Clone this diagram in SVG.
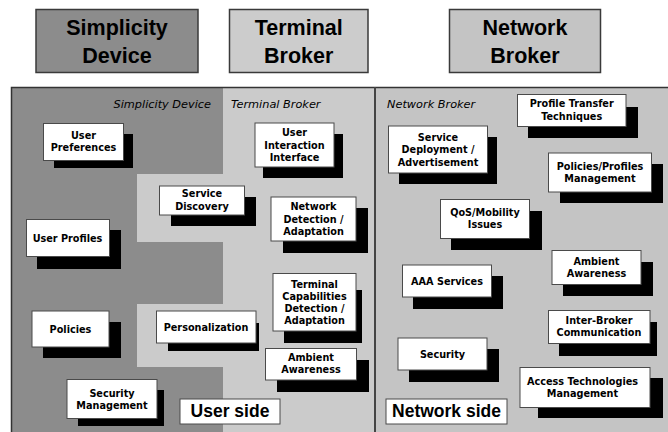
<svg xmlns="http://www.w3.org/2000/svg" width="668" height="432" viewBox="0 0 668 432">
<style>
.hdr{stroke:#3a3a3a;stroke-width:1.5}
.ht{font-family:"Liberation Sans",Arial,sans-serif;font-weight:bold;font-size:21.5px;fill:#000;text-anchor:middle}
.reg{font-family:"DejaVu Sans",Verdana,sans-serif;font-style:italic;font-size:11.3px;fill:#000}
.sh{fill:#000}
.bx{fill:#fff;stroke:#4a4a4a;stroke-width:1}
.t{font-family:"DejaVu Sans",Verdana,sans-serif;font-weight:bold;font-size:9.7px;fill:#000;text-anchor:middle}
.side{font-family:"Liberation Sans",Arial,sans-serif;font-weight:bold;font-size:17.5px;fill:#000;text-anchor:middle}
</style>
<rect width="668" height="432" fill="#fff"/>
<g id="header-simplicity"><rect class="hdr" x="36" y="9.5" width="162" height="63" fill="#8c8c8c"/><text class="ht" x="117" y="34.5">Simplicity</text><text class="ht" x="117" y="63.3">Device</text></g>
<g id="header-terminal"><rect class="hdr" x="229.5" y="9.5" width="138.5" height="63" fill="#cccccc"/><text class="ht" x="298.7" y="34.5">Terminal</text><text class="ht" x="298.7" y="63.3">Broker</text></g>
<g id="header-network"><rect class="hdr" x="449.5" y="9.5" width="151" height="63" fill="#c4c4c4"/><text class="ht" x="525" y="34.5">Network</text><text class="ht" x="525" y="63.3">Broker</text></g>
<g id="regions">
<rect x="11" y="87" width="364" height="346" fill="#cbcbcb"/>
<rect x="375" y="87" width="294" height="346" fill="#c4c4c4"/>
<path d="M11,87 H223 V174 H137 V242 H223 V304 H137 V367 H223 V433 H11 Z" fill="#8c8c8c"/>
<path d="M11.5,433 V87.5 H669" fill="none" stroke="#333" stroke-width="1.5"/>
<line x1="375" y1="87" x2="375" y2="433" stroke="#444" stroke-width="2"/>
<text class="reg" x="211" y="107.5" text-anchor="end">Simplicity Device</text>
<text class="reg" x="231" y="107.5">Terminal Broker</text>
<text class="reg" x="387" y="107.5">Network Broker</text>
</g>
<g id="connectors"></g>
<g id="user-preferences"><rect class="sh" x="54" y="134" width="79" height="34"/><rect class="bx" x="43.5" y="123.5" width="80" height="37"/><text class="t" x="83.5" y="138.5">User</text><text class="t" x="83.5" y="150.8">Preferences</text></g>
<g id="user-profiles"><rect class="sh" x="37" y="230" width="84" height="39"/><rect class="bx" x="26.5" y="219.5" width="83" height="37"/><text class="t" x="67.5" y="241.5">User Profiles</text></g>
<g id="policies"><rect class="sh" x="43" y="322" width="78" height="36"/><rect class="bx" x="32" y="311" width="77" height="36"/><text class="t" x="70.5" y="332.5">Policies</text></g>
<g id="security-management"><rect class="sh" x="78" y="390" width="86" height="36"/><rect class="bx" x="67" y="379.5" width="90" height="39"/><text class="t" x="112" y="396.8">Security</text><text class="t" x="112" y="409.1">Management</text></g>
<g id="service-discovery"><rect class="sh" x="171" y="197" width="85" height="29"/><rect class="bx" x="159.5" y="186" width="85" height="29"/><text class="t" x="202" y="197.4">Service</text><text class="t" x="202" y="209.7">Discovery</text></g>
<g id="personalization"><rect class="sh" x="168" y="323" width="91" height="28"/><rect class="bx" x="156.5" y="311" width="99.5" height="32"/><text class="t" x="206" y="330.5">Personalization</text></g>
<g id="user-interaction-interface"><rect class="sh" x="263" y="134" width="80" height="44"/><rect class="bx" x="255" y="123" width="79" height="44"/><text class="t" x="294.5" y="136.4">User</text><text class="t" x="294.5" y="148.7">Interaction</text><text class="t" x="294.5" y="161">Interface</text></g>
<g id="network-detection"><rect class="sh" x="283" y="208" width="85" height="45"/><rect class="bx" x="271" y="197" width="85" height="44"/><text class="t" x="313.5" y="210.4">Network</text><text class="t" x="313.5" y="222.7">Detection /</text><text class="t" x="313.5" y="235">Adaptation</text></g>
<g id="terminal-capabilities"><rect class="sh" x="284" y="290" width="78" height="53"/><rect class="bx" x="273" y="273.5" width="83" height="57.5"/><text class="t" x="314.5" y="287.5">Terminal</text><text class="t" x="314.5" y="299.8">Capabilities</text><text class="t" x="314.5" y="312.1">Detection /</text><text class="t" x="314.5" y="324.4">Adaptation</text></g>
<g id="ambient-awareness-terminal"><rect class="sh" x="277" y="360" width="92" height="32"/><rect class="bx" x="265.5" y="348.5" width="91" height="31.5"/><text class="t" x="311" y="361">Ambient</text><text class="t" x="311" y="373.3">Awareness</text></g>
<g id="profile-transfer"><rect class="sh" x="528" y="107" width="110" height="31"/><rect class="bx" x="517.5" y="94.5" width="108.5" height="32"/><text class="t" x="571.7" y="107.2">Profile Transfer</text><text class="t" x="571.7" y="119.5">Techniques</text></g>
<g id="service-deployment"><rect class="sh" x="399" y="137" width="98" height="47"/><rect class="bx" x="388.5" y="126" width="99" height="47"/><text class="t" x="438" y="141">Service</text><text class="t" x="438" y="153.3">Deployment  /</text><text class="t" x="438" y="165.6">Advertisement</text></g>
<g id="policies-profiles"><rect class="sh" x="560" y="164" width="103" height="39"/><rect class="bx" x="548.5" y="153" width="103" height="39"/><text class="t" x="600" y="169.5">Policies/Profiles</text><text class="t" x="600" y="181.8">Management</text></g>
<g id="qos-mobility"><rect class="sh" x="451" y="211" width="91" height="39"/><rect class="bx" x="440.5" y="199.5" width="89" height="39"/><text class="t" x="485" y="216">QoS/Mobility</text><text class="t" x="485" y="228.3">Issues</text></g>
<g id="ambient-awareness-network"><rect class="sh" x="563" y="262" width="90" height="34"/><rect class="bx" x="552" y="250.5" width="89" height="34"/><text class="t" x="596.5" y="264.5">Ambient</text><text class="t" x="596.5" y="276.8">Awareness</text></g>
<g id="aaa-services"><rect class="sh" x="413" y="276" width="90" height="33"/><rect class="bx" x="402.5" y="265" width="89" height="32"/><text class="t" x="447" y="284.5">AAA Services</text></g>
<g id="inter-broker"><rect class="sh" x="559" y="322" width="98" height="34"/><rect class="bx" x="548.5" y="310.5" width="101.5" height="33"/><text class="t" x="599" y="324">Inter-Broker</text><text class="t" x="599" y="336.3">Communication</text></g>
<g id="security"><rect class="sh" x="409" y="349" width="90" height="33"/><rect class="bx" x="398" y="338" width="89" height="32"/><text class="t" x="442.5" y="357.5">Security</text></g>
<g id="access-technologies"><rect class="sh" x="538" y="378" width="125" height="40"/><rect class="bx" x="520" y="367.5" width="130" height="40"/><text class="t" x="582.5" y="385">Access Technologies</text><text class="t" x="582.5" y="397.3">Management</text></g>
<g id="user-side"><rect class="bx" x="180" y="399" width="100" height="25"/><text class="side" x="230" y="417">User side</text></g>
<g id="network-side"><rect class="bx" x="386" y="399" width="121" height="25"/><text class="side" x="446.5" y="417">Network side</text></g>
</svg>
